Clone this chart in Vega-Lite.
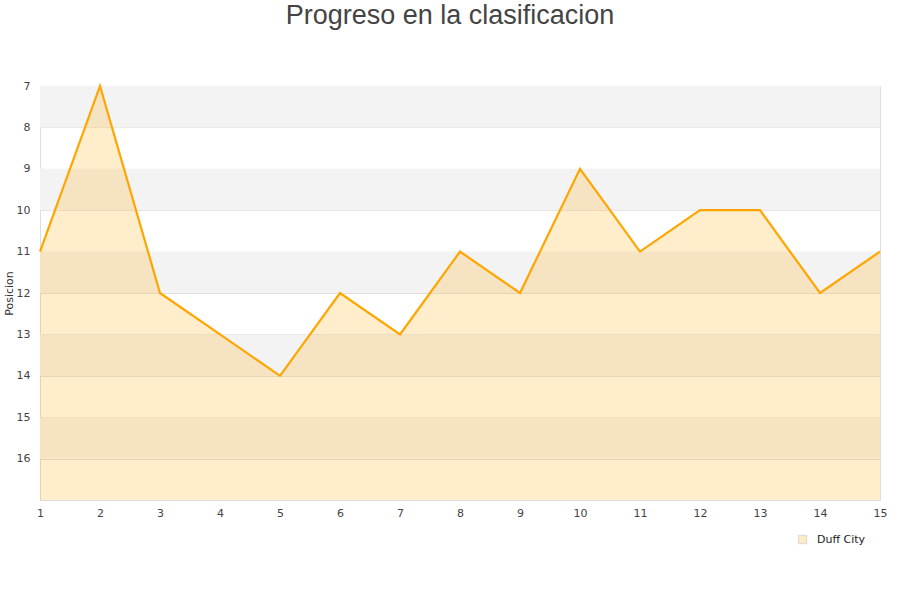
{
  "$schema": "https://vega.github.io/schema/vega-lite/v6.json",
  "autosize": "none",
  "width": 840,
  "height": 414,
  "padding": {"left": 40, "top": 86, "right": 20, "bottom": 100},
  "background": "white",
  "title": {
    "text": "Progreso en la clasificacion",
    "font": "Liberation Sans",
    "fontSize": 27,
    "fontWeight": "normal",
    "color": "#444444",
    "anchor": "middle",
    "dx": -10,
    "offset": 50
  },
  "config": {
    "view": {"stroke": "#dddddd", "strokeWidth": 1},
    "axis": {
      "labelFont": "DejaVu Sans",
      "labelFontSize": 11,
      "labelColor": "#444444",
      "titleFont": "DejaVu Sans",
      "titleFontSize": 11,
      "titleFontWeight": "normal",
      "titleColor": "#333333",
      "ticks": false,
      "domainColor": "#dddddd"
    }
  },
  "datasets": {
    "bands": [
      {"desde": 7, "hasta": 8},
      {"desde": 9, "hasta": 10},
      {"desde": 11, "hasta": 12},
      {"desde": 13, "hasta": 14},
      {"desde": 15, "hasta": 16}
    ],
    "progreso": [
      {"jornada": 1, "posicion": 11, "equipo": "Duff City"},
      {"jornada": 2, "posicion": 7, "equipo": "Duff City"},
      {"jornada": 3, "posicion": 12, "equipo": "Duff City"},
      {"jornada": 4, "posicion": 13, "equipo": "Duff City"},
      {"jornada": 5, "posicion": 14, "equipo": "Duff City"},
      {"jornada": 6, "posicion": 12, "equipo": "Duff City"},
      {"jornada": 7, "posicion": 13, "equipo": "Duff City"},
      {"jornada": 8, "posicion": 11, "equipo": "Duff City"},
      {"jornada": 9, "posicion": 12, "equipo": "Duff City"},
      {"jornada": 10, "posicion": 9, "equipo": "Duff City"},
      {"jornada": 11, "posicion": 11, "equipo": "Duff City"},
      {"jornada": 12, "posicion": 10, "equipo": "Duff City"},
      {"jornada": 13, "posicion": 10, "equipo": "Duff City"},
      {"jornada": 14, "posicion": 12, "equipo": "Duff City"},
      {"jornada": 15, "posicion": 11, "equipo": "Duff City"}
    ]
  },
  "layer": [
    {
      "data": {"name": "bands"},
      "mark": {"type": "rect", "fill": "#f3f3f3"},
      "encoding": {
        "y": {"field": "desde", "type": "quantitative", "scale": {"domain": [7, 17], "reverse": true, "nice": false, "zero": false}},
        "y2": {"field": "hasta"}
      }
    },
    {
      "data": {"name": "progreso"},
      "layer": [
        {
          "mark": {"type": "area", "fillOpacity": 0.2},
          "encoding": {
            "x": {
              "field": "jornada", "type": "quantitative",
              "scale": {"domain": [1, 15], "nice": false, "zero": false},
              "axis": {"values": [1,2,3,4,5,6,7,8,9,10,11,12,13,14,15], "format": "d", "grid": false, "title": null, "labelPadding": 7, "labelFlush": false}
            },
            "y": {
              "field": "posicion", "type": "quantitative",
              "scale": {"domain": [7, 17], "reverse": true, "nice": false, "zero": false},
              "axis": {"values": [7,8,9,10,11,12,13,14,15,16], "format": "d", "grid": true, "gridColor": "#e0e0e0", "title": "Posicion", "titleX": -26, "labelPadding": 10}
            },
            "y2": {"datum": 17},
            "color": {
              "field": "equipo", "type": "nominal",
              "scale": {"range": ["#ffa500"]},
              "legend": {
                "title": null,
                "orient": "none",
                "legendX": 757,
                "legendY": 448,
                "symbolType": "square",
                "symbolSize": 70,
                "symbolOpacity": 0.22,
                "symbolStrokeColor": "#555555",
                "symbolStrokeWidth": 1,
                "labelOffset": 9,
                "labelFont": "DejaVu Sans",
                "labelFontSize": 11,
                "labelColor": "#222222"
              }
            }
          }
        },
        {
          "mark": {"type": "line", "color": "#ffa500", "strokeWidth": 2.2},
          "encoding": {
            "x": {"field": "jornada", "type": "quantitative"},
            "y": {"field": "posicion", "type": "quantitative"}
          }
        }
      ]
    }
  ]
}
